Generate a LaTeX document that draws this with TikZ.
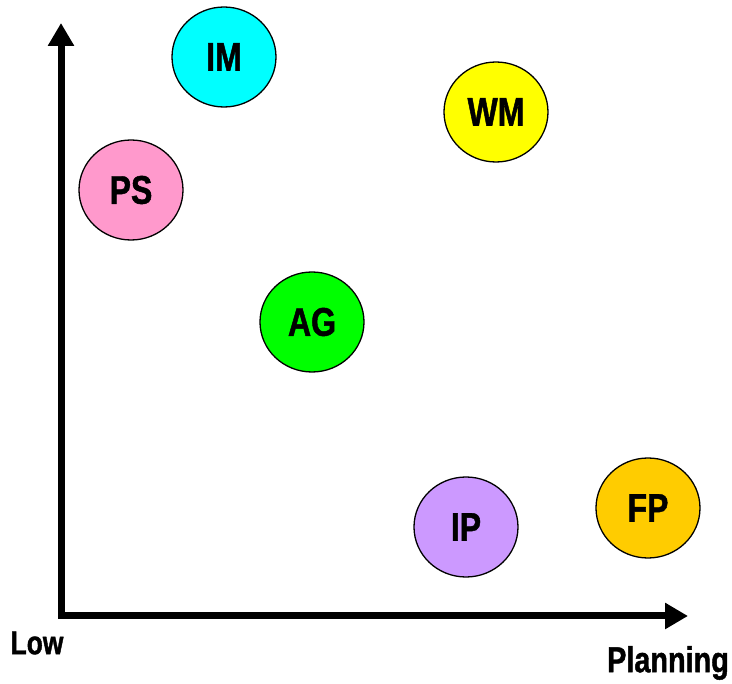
\documentclass[tikz,border=0pt]{standalone}
\usepackage{fontspec}
\newfontfamily\topicfont[FakeStretch=0.8,FakeBold=1.2]{Liberation Sans Bold}
\usetikzlibrary{arrows.meta,shapes.geometric}

\tikzset{
  axis/.style={line width=7pt, line join=miter,
               {Triangle[width=25pt,length=23pt]}-{Triangle[width=25pt,length=23pt]}},
  topic/.style={ellipse, draw=black, line width=1.3pt,
                minimum width=104pt, minimum height=100pt, inner sep=0pt,
                font=\fontsize{40}{40}\topicfont},
  axislabel/.style={font=\fontsize{33}{33}\topicfont}
}
\definecolor{imcol}{RGB}{0,255,255}
\definecolor{wmcol}{RGB}{255,255,0}
\definecolor{pscol}{RGB}{255,153,204}
\definecolor{agcol}{RGB}{0,255,0}
\definecolor{ipcol}{RGB}{204,153,255}
\definecolor{fpcol}{RGB}{255,204,0}

\begin{document}
\begin{tikzpicture}[x=1pt,y=-1pt]
    \useasboundingbox (0,0) rectangle (732,684);

    % axes
    \coordinate (top)    at (61,23);
    \coordinate (origin) at (61,616);
    \coordinate (right)  at (688,616);
    \draw[axis] (top) -- (origin) -- (right);

    \node[axislabel] (low)  at (37,643) {Low};
    \node[axislabel, font=\fontsize{36}{36}\topicfont] (plan) at (668,663) {Planning};

    % topics
    \node[topic, fill=imcol] (IM) at (224,57)  {IM};
    \node[topic, fill=wmcol] (WM) at (496,112) {WM};
    \node[topic, fill=pscol] (PS) at (131,190) {PS};
    \node[topic, fill=agcol] (AG) at (312,322) {AG};
    \node[topic, fill=ipcol] (IP) at (466,527) {IP};
    \node[topic, fill=fpcol] (FP) at (648,508) {FP};

\end{tikzpicture}
\end{document}
